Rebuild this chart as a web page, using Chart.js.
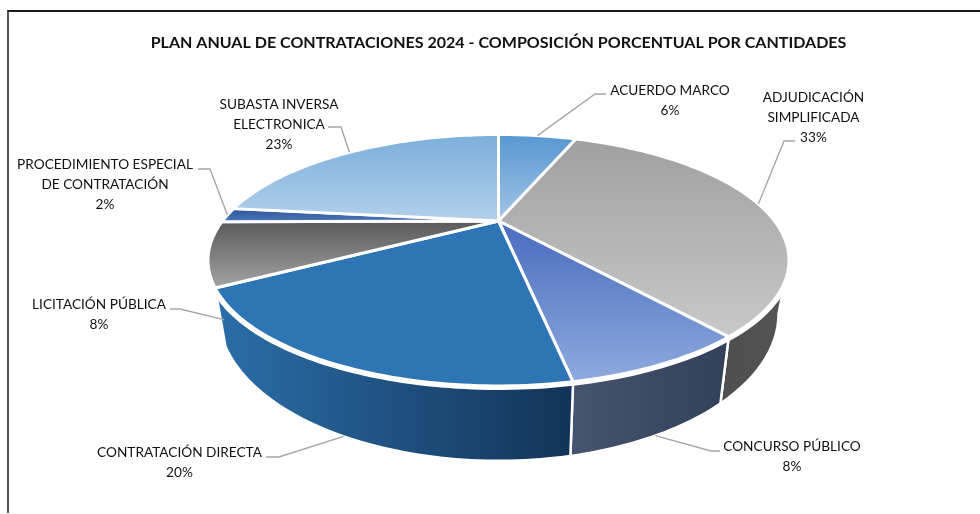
<!DOCTYPE html>
<html>
<head>
<meta charset="utf-8">
<title>Plan anual de contrataciones 2024</title>
<script src="https://cdn.jsdelivr.net/npm/chart.js@4"></script>
<style>
  html, body { margin: 0; padding: 0; background: #fff; overflow: hidden; }
  #frame { position: absolute; left: 7px; top: 10px; width: 973px; height: 503px; box-sizing: border-box;
           border-top: 2px solid #1a1a1a; border-left: 2px solid #555; }
  #pie { position: absolute; left: 0; top: 0; }
</style>
</head>
<body>
<div id="frame"></div>
<canvas id="pie" width="980" height="514"></canvas>
<script>
var chartTitle = "PLAN ANUAL DE CONTRATACIONES 2024 - COMPOSICIÓN PORCENTUAL POR CANTIDADES";
var categories = ["ACUERDO MARCO", "ADJUDICACIÓN SIMPLIFICADA", "CONCURSO PÚBLICO", "CONTRATACIÓN DIRECTA",
                  "LICITACIÓN PÚBLICA", "PROCEDIMIENTO ESPECIAL DE CONTRATACIÓN", "SUBASTA INVERSA ELECTRONICA"];
var shares = [5.9, 33.2, 7.9, 19.7, 8.2, 1.9, 23.2];

// slice look: top face gradient (top to bottom) and side wall gradient (left to right)
var faceColors = [["#5897d2", "#a3c5e6"], ["#9f9f9f", "#c9c9c9"], ["#4a6bbf", "#8eaadd"], ["#2e75b6", "#2e75b6"],
                  ["#5a5a5a", "#a3a3a3"], ["#2f5597", "#4a76bd"], ["#7cafdc", "#b2d0ea"]];
var wallColors = [null, ["#4e4e4e", "#545454"], ["#47546f", "#324059"], ["#2b6ea9", "#133358"], null, null, null];

// label lines, where each label sits and where its leader line bends
var labelLines = [["ACUERDO MARCO"], ["ADJUDICACIÓN", "SIMPLIFICADA"], ["CONCURSO PÚBLICO"], ["CONTRATACIÓN DIRECTA"],
                  ["LICITACIÓN PÚBLICA"], ["PROCEDIMIENTO ESPECIAL", "DE CONTRATACIÓN"], ["SUBASTA INVERSA", "ELECTRONICA"]];
var labelBoxes = [{x: 670, y: 90.8}, {x: 813.5, y: 97.8}, {x: 792, y: 446.8}, {x: 179.5, y: 452.8},
                  {x: 99, y: 304.8}, {x: 105, y: 164.8}, {x: 279, y: 104.8}];
var leaders = [
  {rim: "top", bend: [595, 94], end: [606, 94]},
  {rim: "top", bend: [784, 141], end: [795, 141]},
  {rim: "low", bend: [711, 451], end: [720, 451]},
  {rim: "low", bend: [279, 457], end: [266, 457]},
  {rim: "low", shift: [5, 14], bend: [180, 309], end: [170, 309]},
  {rim: "top", bend: [210, 169], end: [198, 169]},
  {rim: "top", bend: [341, 127], end: [328, 127]}
];

var labelFont = "13.65px Lato";
var lineGap = 19.7;

// top and bottom plane of the tilted disc (perspective, so the hub is above the ellipse centre)
var tilt = 0.312;
var planes = {
  top: {a: 276, b: 113.5, y: 221},
  low: {a: 266, b: 132.7, y: 268}
};

function project(el, plane, angle) {
  var p = planes[plane];
  var s = Math.sin(angle);
  var d = 1 - tilt * s;
  return {x: el.x + p.a * Math.cos(angle) / d, y: p.y + p.b * s / d};
}

function rimPoints(el, plane, from, to) {
  var pts = [];
  var steps = Math.max(2, Math.ceil(Math.abs(to - from) / 0.02));
  for (var i = 0; i <= steps; i++) {
    pts.push(project(el, plane, from + (to - from) * i / steps));
  }
  return pts;
}

function tracePath(ctx, pts) {
  ctx.beginPath();
  pts.forEach(function(p, i) {
    if (i == 0) ctx.moveTo(p.x, p.y);
    else ctx.lineTo(p.x, p.y);
  });
  ctx.closePath();
}

function boundsOf(pts) {
  var xs = pts.map(function(p) { return p.x; });
  var ys = pts.map(function(p) { return p.y; });
  return {x0: Math.min.apply(null, xs), x1: Math.max.apply(null, xs), y0: Math.min.apply(null, ys), y1: Math.max.apply(null, ys)};
}

var discPlugin = {
  id: "disc",
  beforeDatasetDraw: function(chart, args) {
    var ctx = chart.ctx;
    var arcs = chart.getDatasetMeta(args.index).data;
    var limit = Math.asin(tilt);
    ctx.save();
    ctx.lineJoin = "round";

    // side walls first
    arcs.forEach(function(el, i) {
      if (!wallColors[i]) return;
      var from = Math.max(el.startAngle, limit);
      var to = Math.min(el.endAngle, Math.PI - limit);
      var pts = rimPoints(el, "top", from, to).concat(rimPoints(el, "low", to, from));
      var box = boundsOf(pts);
      var grad = ctx.createLinearGradient(box.x0, 0, box.x1, 0);
      grad.addColorStop(0, wallColors[i][0]);
      grad.addColorStop(1, wallColors[i][1]);
      tracePath(ctx, pts);
      ctx.fillStyle = grad;
      ctx.fill();
      ctx.strokeStyle = "#fff";
      ctx.lineWidth = 2.5;
      ctx.stroke();
    });

    // white gap between the top face and the walls
    var whole = rimPoints(arcs[0], "top", 0, Math.PI * 2);
    tracePath(ctx, whole);
    ctx.strokeStyle = "#fff";
    ctx.lineWidth = 8;
    ctx.stroke();

    // top face
    arcs.forEach(function(el, i) {
      var hub = {x: el.x, y: planes.top.y};
      var pts = [hub].concat(rimPoints(el, "top", el.startAngle, el.endAngle));
      var box = boundsOf(pts);
      var grad = ctx.createLinearGradient(0, box.y0, 0, box.y1);
      grad.addColorStop(0, faceColors[i][0]);
      grad.addColorStop(1, faceColors[i][1]);
      tracePath(ctx, pts);
      ctx.fillStyle = grad;
      ctx.fill();
      ctx.strokeStyle = "#fff";
      ctx.lineWidth = 3;
      ctx.stroke();
    });
    ctx.restore();
    return false;
  },
  afterDraw: function(chart) {
    var ctx = chart.ctx;
    var arcs = chart.getDatasetMeta(0).data;
    ctx.save();
    arcs.forEach(function(el, i) {
      var lead = leaders[i];
      var from = project(el, lead.rim, (el.startAngle + el.endAngle) / 2);
      var shift = lead.shift || [0, 0];
      ctx.beginPath();
      ctx.moveTo(from.x + shift[0], from.y + shift[1]);
      ctx.lineTo(lead.bend[0], lead.bend[1]);
      ctx.lineTo(lead.end[0], lead.end[1]);
      ctx.strokeStyle = "#a6a6a6";
      ctx.lineWidth = 1.4;
      ctx.stroke();

      ctx.fillStyle = "#111";
      ctx.font = labelFont;
      ctx.textAlign = "center";
      ctx.textBaseline = "middle";
      var lines = labelLines[i].concat([Math.round(shares[i]) + "%"]);
      lines.forEach(function(line, n) {
        ctx.fillText(line, labelBoxes[i].x, labelBoxes[i].y + n * lineGap);
      });
    });
    ctx.restore();
  }
};

var myChart = new Chart(document.getElementById("pie"), {
  type: "pie",
  data: {
    labels: categories,
    datasets: [{ data: shares }]
  },
  options: {
    responsive: false,
    animation: false,
    layout: { padding: { left: 17, right: 0, top: 0, bottom: 0 } },
    plugins: {
      legend: { display: false },
      tooltip: { enabled: false },
      title: {
        display: true,
        text: chartTitle,
        color: "#111",
        font: { family: "Lato", size: 16.05, weight: "bold" },
        padding: { top: 33.5, bottom: 10 }
      }
    }
  },
  plugins: [discPlugin]
});
</script>
</body>
</html>
